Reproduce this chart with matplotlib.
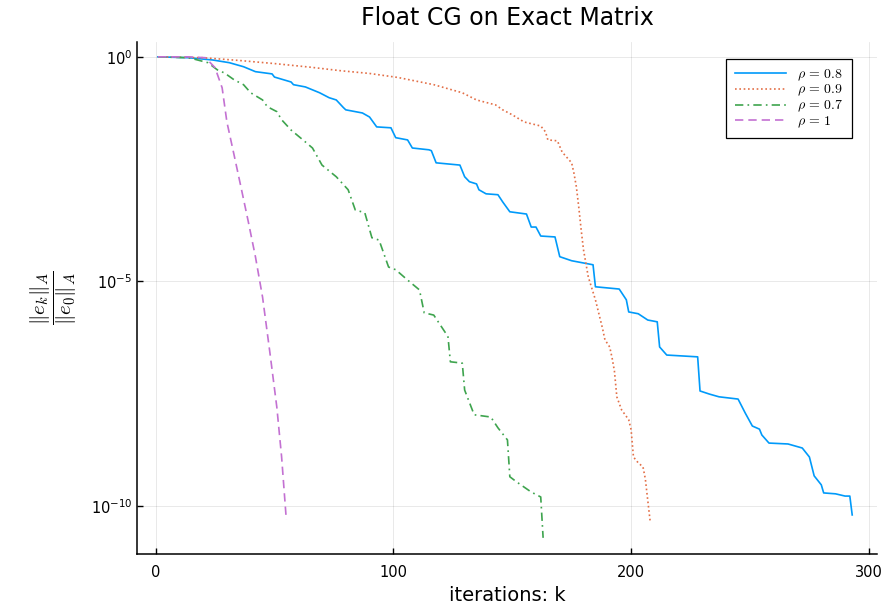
import numpy as np
import matplotlib
matplotlib.use("Agg")
from matplotlib import pyplot as plt

plt.rcParams['mathtext.fontset'] = 'cm'
plt.rcParams['font.family'] = ['DejaVu Sans']

# relative A-norm error of float CG, stored as log10 at the iterations where the slope changes
k_08 = [1, 14, 24, 31, 37, 42, 49, 50, 57, 58, 63, 69, 73, 76, 79, 80, 87, 90, 93, 99,
        101, 106, 108, 115, 116, 118, 128, 130, 132, 135, 136, 139, 144, 146, 149, 156,
        158, 160, 162, 168, 170, 175, 184, 185, 189, 195, 198, 199, 203, 207, 211, 212,
        215, 228, 229, 233, 237, 245, 248, 251, 254, 255, 258, 266, 272, 275, 277, 280,
        281, 286, 290, 292, 293]
e_08 = [0.0, -0.02, -0.07, -0.13, -0.22, -0.33, -0.38, -0.45, -0.56, -0.62, -0.67, -0.80,
        -0.91, -0.96, -1.13, -1.18, -1.25, -1.34, -1.56, -1.58, -1.80, -1.85, -2.03, -2.07,
        -2.09, -2.36, -2.41, -2.67, -2.78, -2.83, -2.96, -3.05, -3.07, -3.23, -3.45, -3.50,
        -3.79, -3.79, -3.99, -4.01, -4.45, -4.54, -4.63, -5.12, -5.14, -5.17, -5.41, -5.68,
        -5.72, -5.86, -5.90, -6.46, -6.64, -6.68, -7.44, -7.51, -7.57, -7.62, -7.93, -8.22,
        -8.29, -8.42, -8.60, -8.62, -8.71, -8.91, -9.33, -9.53, -9.71, -9.73, -9.78, -9.78,
        -10.2]

k_09 = [1, 20, 35, 50, 65, 78, 90, 102, 117, 129, 135, 143, 146, 150, 155, 162, 164, 165,
        169, 171, 175, 176, 177, 178, 179, 180, 181, 182, 185, 188, 189, 191, 192, 193,
        194, 196, 199, 200, 201, 203, 205, 206, 207, 208]
e_09 = [0.0, -0.02, -0.08, -0.15, -0.23, -0.31, -0.37, -0.46, -0.62, -0.80, -0.96, -1.07,
        -1.18, -1.29, -1.45, -1.54, -1.67, -1.85, -1.87, -2.12, -2.36, -2.60, -2.90, -3.35,
        -3.85, -4.30, -4.60, -4.90, -5.41, -6.05, -6.30, -6.46, -6.70, -7.00, -7.57, -7.86,
        -8.08, -8.30, -8.91, -9.04, -9.13, -9.40, -9.87, -10.33]

k_07 = [1, 14, 22, 26, 29, 33, 37, 40, 45, 47, 51, 53, 57, 62, 66, 70, 76, 81, 84, 88,
        91, 94, 98, 101, 106, 111, 113, 117, 122, 123, 124, 129, 130, 134, 141, 144, 148,
        149, 152, 158, 162, 163]
e_07 = [0.0, -0.02, -0.13, -0.29, -0.36, -0.51, -0.62, -0.80, -0.96, -1.11, -1.22, -1.40,
        -1.63, -1.85, -2.03, -2.41, -2.67, -2.96, -3.41, -3.47, -4.03, -4.08, -4.68, -4.74,
        -4.97, -5.19, -5.70, -5.75, -6.15, -6.24, -6.79, -6.82, -7.42, -7.97, -8.02, -8.26,
        -8.53, -9.35, -9.47, -9.69, -9.80, -10.71]

k_1 = [1, 14, 21, 25, 28, 30, 33, 36, 39, 42, 45, 48, 51, 53, 55]
e_1 = [0.0, 0.0, -0.02, -0.24, -0.69, -1.45, -2.18, -2.92, -3.67, -4.45, -5.35, -6.55,
       -7.80, -8.90, -10.31]

fig = plt.figure(figsize=(8.84, 6.09), dpi=100)
ax = fig.add_axes([0.155, 0.0903, 0.837, 0.841])

lw = 1.2
ax.plot(k_08, 10.0**np.array(e_08), color='#009AFA', lw=lw, label=r'$\rho\,=\,0.8$')
ax.plot(k_09, 10.0**np.array(e_09), color='#E36F47', lw=lw, ls=(0, (1, 1.6)),
        label=r'$\rho\,=\,0.9$')
ax.plot(k_07, 10.0**np.array(e_07), color='#3EA44E', lw=lw, ls=(0, (5, 2.5, 1, 2.5)),
        label=r'$\rho\,=\,0.7$')
ax.plot(k_1, 10.0**np.array(e_1), color='#C371D2', lw=lw, ls=(0, (5, 3)),
        label=r'$\rho\,=\,1$')

ax.set_yscale('log')
ax.set_xlim(-7.8, 303.4)
ax.set_ylim(10**-11.07, 10**0.334)
ax.set_xticks([0, 100, 200, 300])
ax.set_yticks([1, 1e-5, 1e-10])
ax.yaxis.set_minor_locator(matplotlib.ticker.NullLocator())

ax.grid(True, color='black', alpha=0.1, lw=0.6)
for s in ['top', 'right']:
    ax.spines[s].set_visible(False)
for s in ['left', 'bottom']:
    ax.spines[s].set_linewidth(1.1)
ax.tick_params(direction='in', length=4, width=1, labelsize=10.5)
ax.tick_params(axis='x', pad=8)

ax.set_title('Float CG on Exact Matrix', fontsize=17, pad=12)
ax.set_xlabel('iterations: k', fontsize=14, labelpad=4)
ax.set_ylabel(r'$\dfrac{\Vert e_k\Vert_A}{\Vert e_0\Vert_A}$', fontsize=15, labelpad=8)

leg = ax.legend(loc='upper right', bbox_to_anchor=(0.966, 0.967), fontsize=10,
                fancybox=False, framealpha=1, edgecolor='black', handlelength=3.7,
                handletextpad=0.8, labelspacing=0.0, borderpad=0.6, borderaxespad=0)
leg.get_frame().set_linewidth(0.9)

plt.savefig('out.png', dpi=100)
